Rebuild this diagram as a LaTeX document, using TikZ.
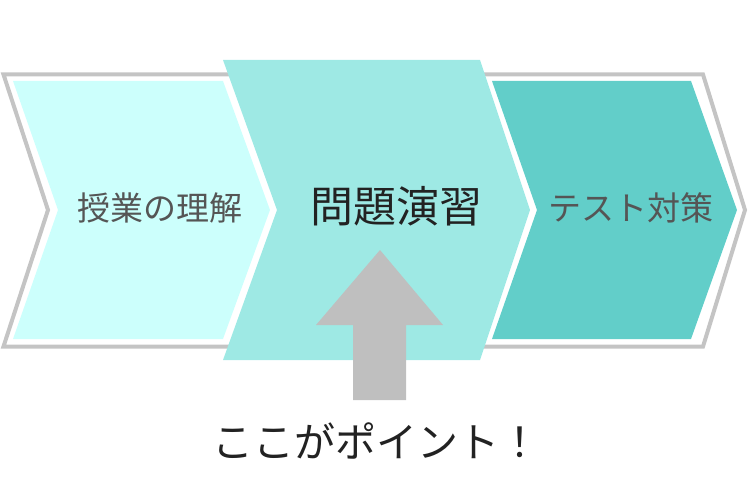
\documentclass[tikz,border=0pt]{standalone}
\usepackage{fontspec}
\newfontfamily\jpfont{Noto Sans CJK JP}
\definecolor{outlinegray}{HTML}{C4C4C4}
\definecolor{arrowgray}{HTML}{BFBFBF}
\definecolor{stepone}{HTML}{CCFFFC}
\definecolor{steptwo}{HTML}{9EE9E4}
\definecolor{stepthree}{HTML}{62CEC9}
\definecolor{textgray}{HTML}{555555}
\definecolor{textdark}{HTML}{222222}
\tikzset{
  outlinebox/.style={draw=outlinegray, line width=4pt, line join=miter},
  steplabel/.style={font=\jpfont\fontsize{33}{36}\selectfont, text=textgray, inner sep=0pt},
  mainlabel/.style={font=\jpfont\fontsize{43}{46}\selectfont, text=textdark, inner sep=0pt},
  notelabel/.style={font=\jpfont\fontsize{41}{44}\selectfont, text=textdark, inner sep=0pt}
}
\begin{document}
\begin{tikzpicture}[x=1pt,y=-1pt]
\useasboundingbox (0,0) rectangle (750,500);
% outer gray outline
\draw[outlinebox] (3.5,74.5) -- (703,74.5) -- (745,210) -- (703,346.5) -- (3.5,346.5) -- (48,210) -- cycle;
% left inner fill
\fill[stepone] (13,81) -- (223,81) -- (270,210) -- (223,339) -- (13,339) -- (58,210) -- cycle;
% right inner fill
\fill[stepthree] (492,81) -- (691,81) -- (737,210) -- (691,339) -- (492,339) -- (537,210) -- cycle;
% middle shape
\fill[steptwo] (223,60) -- (480,60) -- (530,210) -- (480,360) -- (223,360) -- (277,210) -- cycle;
% labels
\node[steplabel] (s1) at (160,208) {授業の理解};
\node[mainlabel] (s2) at (396,206) {問題演習};
\node[steplabel] (s3) at (631,208) {テスト対策};
% block arrow
\fill[arrowgray] (380,250) -- (443,325) -- (406,325) -- (406,400) -- (353,400) -- (353,325) -- (316,325) -- cycle;
\node[notelabel] (note) at (376,441) {ここがポイント！};
\end{tikzpicture}
\end{document}
